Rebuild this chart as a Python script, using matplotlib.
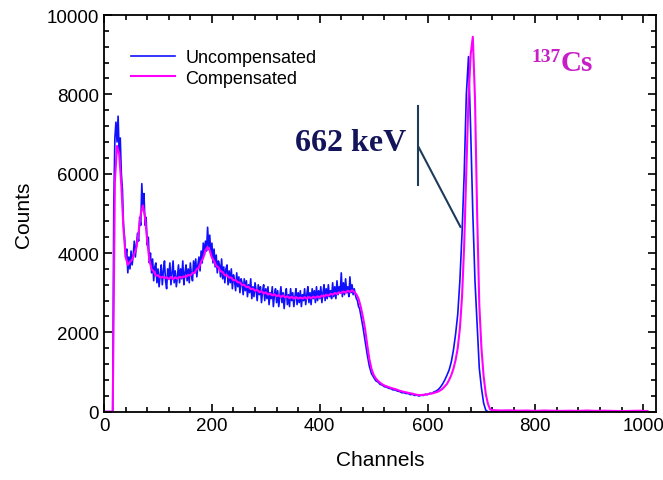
#Cs-137 spectrum, uncompensated vs compensated
import numpy as np
import matplotlib
matplotlib.use('Agg')
import matplotlib.pyplot as plt
from matplotlib.ticker import MultipleLocator

plt.rcParams['font.family'] = ['Liberation Sans', 'DejaVu Sans']

#---------data--------------------------------
# uncompensated: channels 0..478 step 2 (noisy part), then 480..716 step 4
unc_noisy = [
    0, 0, 0, 0, 0, 0, 0, 0, 0, 5200,
    6900, 7300, 6800, 7450, 6500, 6900, 6000, 5600, 4700, 4400,
    3900, 4100, 3500, 3900, 3600, 4050, 3700, 3950, 4300, 3900,
    4200, 4500, 4300, 4900, 4700, 5750, 5100, 5500, 4700, 4900,
    4200, 4400, 3750, 4000, 3500, 3850, 3300, 3650, 3750, 3250,
    3600, 3150, 3450, 3700, 3200, 3550, 3800, 3300, 3100, 3600,
    3350, 3750, 3200, 3500, 3800, 3250, 3550, 3150, 3400, 3700,
    3250, 3600, 3350, 3800, 3200, 3500, 3700, 3300, 3600, 3250,
    3750, 3450, 3300, 3800, 3500, 3850, 3400, 3700, 3900, 3550,
    4050, 3750, 4250, 3950, 4300, 4050, 4650, 4150, 4450, 3950,
    4250, 3750, 4100, 3650, 3950, 3500, 3800, 3700, 3400, 3850,
    3350, 3650, 3250, 3600, 3700, 3200, 3550, 3250, 3600, 3100,
    3450, 3300, 3050, 3500, 3150, 3400, 3000, 3350, 3250, 2950,
    3350, 3050, 3300, 2900, 3200, 3000, 3350, 2850, 3150, 2900,
    3250, 3050, 2800, 3200, 2950, 3150, 2750, 3050, 3200, 2800,
    3100, 2850, 3150, 2700, 3000, 2850, 3150, 2650, 2950, 3100,
    2750, 3050, 2650, 2900, 3150, 2750, 3000, 2600, 2950, 3100,
    2700, 2950, 2650, 3100, 2800, 3000, 2650, 2900, 3100, 2700,
    3000, 2750, 3050, 2650, 2950, 2800, 3100, 2700, 2950, 3150,
    2750, 3000, 2700, 3100, 2850, 3050, 2750, 3150, 2800, 3050,
    2850, 3150, 2750, 3000, 3200, 2800, 3100, 2850, 3200, 2900,
    3050, 2850, 3250, 2900, 3150, 2850, 3300, 2950, 3150, 3000,
    3500, 2900, 3250, 2950, 3350, 3000, 3150, 2900, 3400, 3000,
    3200, 2950, 3100, 2950, 2850, 2800, 2650, 2600, 2450, 2300]

unc_rest = [
    2150, 1800, 1450, 1150, 960, 870, 780, 750, 690, 670,
    630, 620, 590, 580, 550, 550, 520, 510, 480, 480,
    460, 460, 430, 440, 410, 420, 395, 415, 410, 440,
    430, 465, 460, 500, 520, 560, 620, 700, 800, 920,
    1050, 1250, 1550, 1950, 2450, 3300, 4500, 6000, 8000, 8950,
    7100, 5000, 3300, 2200, 1100, 600, 220, 40, 0, 0]

# compensated: channels 0..716 step 4
comp_main = [
    0, 0, 0, 0, 0, 5800, 6700, 6500, 5700, 4600,
    3900, 3700, 3780, 3830, 3980, 4130, 4520, 4980, 5200, 4900,
    4300, 3820, 3590, 3540, 3430, 3440, 3380, 3400, 3370, 3390,
    3340, 3400, 3340, 3390, 3350, 3400, 3380, 3410, 3400, 3450,
    3430, 3500, 3500, 3600, 3630, 3780, 3880, 4070, 4150, 4060,
    3880, 3800, 3680, 3640, 3540, 3520, 3440, 3440, 3380, 3380,
    3310, 3320, 3260, 3260, 3190, 3200, 3140, 3150, 3090, 3100,
    3050, 3070, 3010, 3040, 2980, 3010, 2950, 2980, 2930, 2960,
    2910, 2940, 2890, 2930, 2880, 2910, 2860, 2900, 2850, 2890,
    2850, 2880, 2850, 2890, 2850, 2890, 2860, 2900, 2870, 2910,
    2880, 2930, 2900, 2950, 2920, 2970, 2950, 2990, 2970, 3010,
    2990, 3030, 3000, 3050, 3020, 3060, 3020, 2960, 2850, 2650,
    2400, 2100, 1700, 1330, 1080, 930, 840, 780, 730, 690,
    660, 640, 620, 600, 585, 570, 550, 530, 515, 500,
    490, 475, 465, 455, 440, 425, 420, 420, 425, 430,
    440, 450, 460, 475, 490, 510, 540, 580, 640, 700,
    800, 920, 1080, 1300, 1600, 2100, 2900, 4200, 6100, 7900,
    9000, 9450, 7900, 5000, 2700, 1600, 900, 450, 200, 60]

# flat tail 720..1008 step 16
comp_tail = [40, 30, 35, 25, 30, 20, 30, 25, 20, 25,
             20, 30, 20, 25, 20, 15, 20, 25, 15]
unc_tail = [5, 0, 5, 0, 5, 0, 5, 0, 0, 5,
            0, 0, 5, 0, 0, 0, 5, 0, 0]

tail_ch = 720 + 16*np.arange(len(comp_tail))
unc_ch = np.concatenate([2*np.arange(len(unc_noisy)),
                         480 + 4*np.arange(len(unc_rest)), tail_ch])
comp_ch = np.concatenate([4*np.arange(len(comp_main)), tail_ch])
uncompensated = np.array(unc_noisy + unc_rest + unc_tail)
compensated = np.array(comp_main + comp_tail)

fig = plt.figure(figsize=(6.63, 4.81), dpi=100)
ax = fig.add_axes([0.157, 0.142, 0.8326, 0.8247])

ax.plot(unc_ch, uncompensated, color='#1010ff', lw=1.2, label='Uncompensated')
ax.plot(comp_ch, compensated, color='#ff00ff', lw=1.5, label='Compensated')

# 662 keV marker
ax.plot([583, 583], [5720, 7700], color='#1e3c5a', lw=1.5)
ax.plot([583, 661], [6680, 4660], color='#1e3c5a', lw=1.5)
ax.text(354, 6600, '662 keV', family='Liberation Serif', weight='bold',
        fontsize=23, color='#14145a', ha='left', va='baseline')
ax.text(793, 8850, '137', family='Liberation Serif', weight='bold',
        fontsize=14, color='#c81ec8', ha='left', va='baseline')
ax.text(846, 8610, 'Cs', family='Liberation Serif', weight='bold',
        fontsize=21, color='#c81ec8', ha='left', va='baseline')

ax.set_xlim(0, 1024)
ax.set_ylim(0, 10000)
ax.xaxis.set_major_locator(MultipleLocator(200))
ax.xaxis.set_minor_locator(MultipleLocator(40))
ax.yaxis.set_major_locator(MultipleLocator(2000))
ax.yaxis.set_minor_locator(MultipleLocator(400))
ax.tick_params(which='both', direction='in', top=True, right=True,
               width=1.2, labelsize=13.5)
ax.tick_params(which='major', length=6)
ax.tick_params(which='minor', length=3.5)
for s in ax.spines.values():
    s.set_linewidth(1.3)

ax.set_xlabel('Channels', fontsize=15, labelpad=12)
ax.set_ylabel('Counts', fontsize=15, labelpad=10)

ax.legend(loc='upper left', bbox_to_anchor=(0.02, 0.955), frameon=False,
          fontsize=13, handlelength=2.4, labelspacing=0.2, handletextpad=0.6)

plt.savefig('out.png', dpi=100)
